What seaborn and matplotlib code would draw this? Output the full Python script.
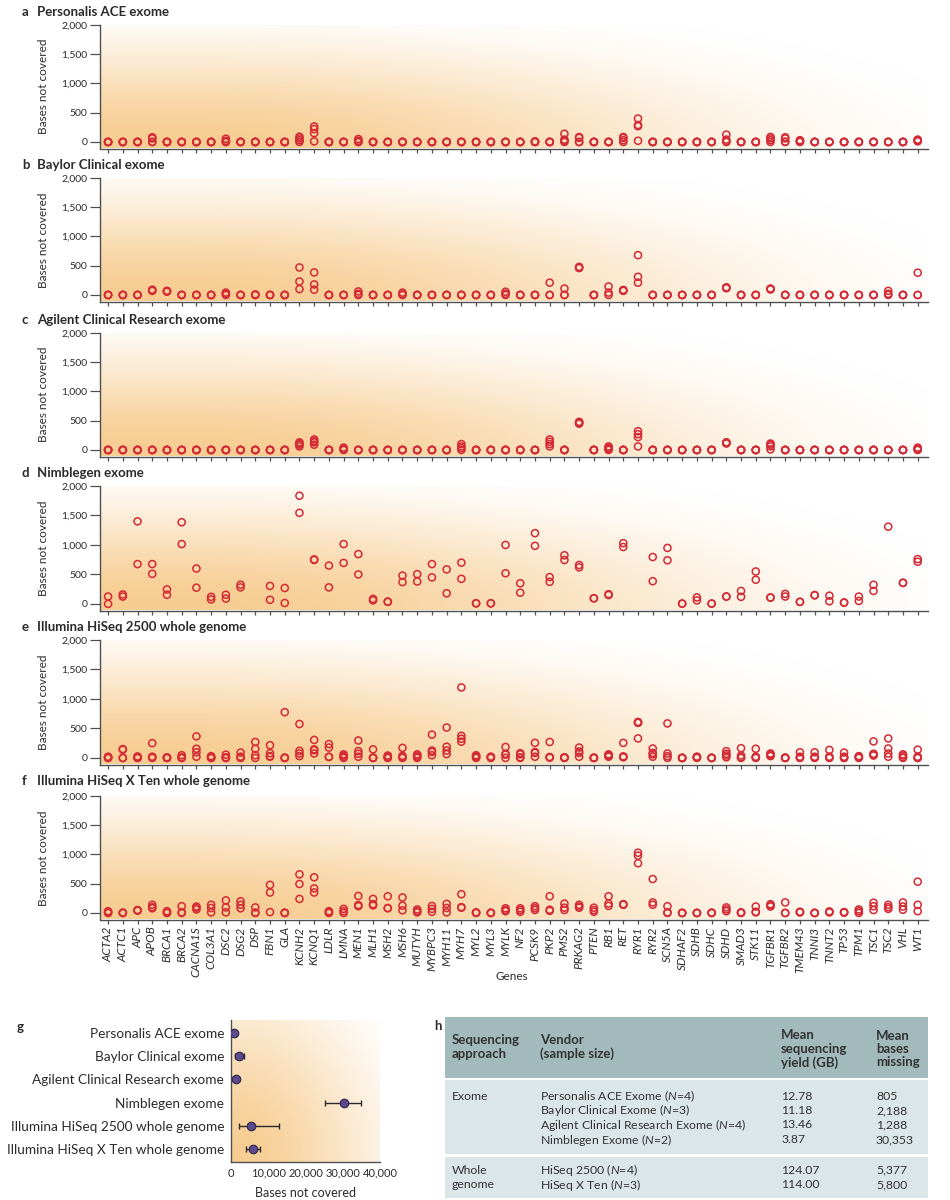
import numpy as np
import pandas as pd
import matplotlib
matplotlib.use("Agg")
import matplotlib.pyplot as plt
import matplotlib.ticker as mticker
from matplotlib.patches import Rectangle
import seaborn as sns

# ---- data ----
genes = ["ACTA2", "ACTC1", "APC", "APOB", "BRCA1", "BRCA2", "CACNA1S", "COL3A1",
         "DSC2", "DSG2", "DSP", "FBN1", "GLA", "KCNH2", "KCNQ1", "LDLR", "LMNA",
         "MEN1", "MLH1", "MSH2", "MSH6", "MUTYH", "MYBPC3", "MYH11", "MYH7", "MYL2",
         "MYL3", "MYLK", "NF2", "PCSK9", "PKP2", "PMS2", "PRKAG2", "PTEN", "RB1",
         "RET", "RYR1", "RYR2", "SCN5A", "SDHAF2", "SDHB", "SDHC", "SDHD", "SMAD3",
         "STK11", "TGFBR1", "TGFBR2", "TMEM43", "TNNI3", "TNNT2", "TP53", "TPM1",
         "TSC1", "TSC2", "VHL", "WT1"]

# bases not covered per gene, one value per sample
personalis_ace = [
    [0, 0, 0, 0], [0, 0, 0, 0], [0, 0, 0, 0], [0, 0, 60, 80], [0, 0, 0, 0], [0, 0, 0, 0],
    [0, 0, 0, 0], [0, 0, 0, 0], [0, 0, 20, 55], [0, 0, 0, 0], [0, 0, 0, 0], [0, 0, 0, 0],
    [0, 0, 0, 0], [0, 30, 60, 90], [10, 150, 220, 265], [0, 0, 0, 0], [0, 0, 0, 0],
    [0, 0, 20, 50], [0, 0, 0, 0], [0, 0, 0, 0], [0, 0, 0, 0], [0, 0, 0, 0], [0, 0, 0, 0],
    [0, 0, 0, 0], [0, 0, 0, 0], [0, 0, 0, 0], [0, 0, 0, 0], [0, 0, 0, 0], [0, 0, 0, 0],
    [0, 0, 5, 10], [0, 0, 0, 0], [0, 20, 40, 140], [0, 0, 70, 85], [0, 0, 0, 0],
    [0, 0, 0, 0], [0, 30, 70, 85], [20, 270, 290, 400], [0, 0, 0, 0], [0, 0, 0, 0],
    [0, 0, 0, 0], [0, 0, 0, 0], [0, 0, 0, 0], [0, 10, 40, 125], [0, 0, 0, 0],
    [0, 0, 0, 0], [0, 30, 60, 85], [0, 5, 60, 80], [0, 10, 20, 30], [0, 0, 0, 0],
    [0, 0, 0, 0], [0, 0, 0, 0], [0, 0, 0, 0], [0, 0, 0, 0], [0, 0, 0, 0], [0, 0, 0, 0],
    [10, 20, 30, 40]]

baylor_clinical = [
    [0, 0, 0], [0, 0, 0], [0, 0, 0], [70, 80, 90], [55, 65, 70], [0, 0, 0], [0, 0, 0],
    [0, 0, 0], [0, 20, 40], [0, 0, 0], [0, 0, 10], [0, 0, 0], [0, 0, 0], [100, 230, 470],
    [90, 180, 385], [0, 0, 0], [0, 0, 0], [0, 20, 60], [0, 0, 0], [0, 0, 0], [0, 10, 40],
    [0, 0, 0], [0, 0, 0], [0, 0, 0], [0, 0, 0], [0, 0, 0], [0, 0, 0], [0, 20, 55],
    [0, 0, 0], [0, 0, 0], [0, 0, 210], [0, 0, 110], [460, 470, 480], [0, 0, 0],
    [0, 40, 145], [70, 80, 85], [210, 310, 680], [0, 0, 0], [0, 0, 0], [0, 0, 0],
    [0, 0, 0], [0, 0, 0], [115, 125, 130], [0, 0, 0], [0, 0, 0], [95, 100, 110],
    [0, 0, 0], [0, 0, 0], [0, 0, 0], [0, 0, 0], [0, 0, 0], [0, 0, 0], [0, 0, 0],
    [0, 20, 70], [0, 0, 0], [0, 0, 380]]

agilent_clinical = [
    [0, 0, 0, 0], [0, 0, 0, 0], [0, 0, 0, 0], [0, 0, 0, 0], [0, 0, 0, 0], [0, 0, 0, 0],
    [0, 0, 0, 0], [0, 0, 0, 0], [0, 0, 0, 0], [0, 0, 0, 0], [0, 0, 0, 0], [0, 0, 0, 0],
    [0, 0, 0, 0], [60, 90, 110, 130], [90, 130, 150, 180], [0, 0, 0, 0],
    [0, 10, 20, 40], [0, 0, 0, 0], [0, 0, 0, 0], [0, 0, 0, 0], [0, 0, 0, 0],
    [0, 0, 0, 0], [0, 0, 0, 0], [0, 0, 0, 0], [0, 30, 60, 100], [0, 0, 0, 0],
    [0, 0, 0, 0], [0, 0, 0, 0], [0, 0, 0, 0], [0, 0, 0, 0], [60, 100, 140, 180],
    [0, 0, 0, 0], [450, 460, 470, 480], [0, 0, 0, 0], [0, 20, 40, 60], [0, 0, 0, 0],
    [60, 220, 270, 320], [0, 0, 0, 0], [0, 0, 0, 0], [0, 0, 0, 0], [0, 0, 0, 0],
    [0, 0, 0, 0], [110, 120, 125, 130], [0, 0, 0, 0], [0, 0, 0, 0], [10, 60, 90, 110],
    [0, 0, 0, 0], [0, 0, 0, 0], [0, 0, 0, 0], [0, 0, 0, 0], [0, 0, 0, 0], [0, 0, 0, 0],
    [0, 0, 0, 0], [0, 0, 0, 0], [0, 0, 0, 0], [0, 10, 20, 40]]

nimblegen = [
    [0, 125], [125, 160], [675, 1400], [510, 675], [155, 245], [1015, 1385], [275, 600],
    [75, 120], [90, 155], [280, 325], [], [70, 305], [15, 270], [1545, 1835], [745, 755],
    [280, 650], [695, 1015], [500, 845], [60, 85], [35, 40], [370, 480], [380, 505],
    [450, 675], [180, 585], [425, 700], [10, 10], [10, 10], [520, 1000], [190, 350],
    [985, 1200], [375, 455], [745, 825], [620, 660], [95, 95], [150, 165], [965, 1030],
    [], [385, 795], [740, 950], [5, 5], [60, 110], [5, 5], [125, 125], [120, 220],
    [410, 550], [105, 110], [125, 170], [35, 35], [145, 150], [45, 140], [20, 25],
    [50, 125], [220, 325], [1310], [355, 360], [715, 760]]

hiseq_2500 = [
    [0, 0, 10, 20], [0, 0, 140, 150], [0, 0, 10, 25], [0, 10, 20, 250], [0, 0, 5, 10],
    [0, 0, 10, 45], [20, 95, 155, 365], [0, 0, 10, 30], [0, 0, 10, 55], [0, 10, 20, 90],
    [0, 45, 155, 270], [20, 30, 80, 215], [0, 0, 5, 775], [30, 75, 120, 575],
    [75, 130, 145, 305], [15, 20, 175, 235], [0, 20, 40, 60], [20, 70, 115, 295],
    [0, 0, 5, 145], [0, 5, 20, 40], [0, 10, 35, 170], [0, 20, 40, 60],
    [45, 100, 125, 395], [65, 125, 190, 515], [275, 325, 375, 1195], [0, 10, 30, 45],
    [0, 10, 15, 20], [0, 55, 70, 185], [0, 10, 60, 80], [20, 85, 100, 255],
    [5, 10, 15, 270], [0, 5, 5, 10], [20, 85, 110, 175], [0, 0, 0, 5], [20, 30, 50, 60],
    [10, 20, 25, 255], [330, 595, 600, 610], [20, 60, 85, 160], [0, 30, 75, 585],
    [0, 0, 0, 0], [0, 10, 15, 20], [0, 0, 0, 0], [10, 40, 70, 115], [0, 10, 40, 165],
    [0, 10, 20, 155], [30, 45, 60, 75], [0, 0, 0, 5], [0, 5, 20, 95], [0, 5, 20, 95],
    [0, 5, 20, 135], [0, 0, 20, 90], [0, 10, 20, 30], [40, 60, 70, 280],
    [20, 75, 160, 330], [0, 10, 40, 60], [0, 0, 20, 140]]

hiseq_x_ten = [
    [0, 10, 30], [0, 0, 5], [40, 45, 50], [80, 100, 140], [0, 5, 30], [0, 10, 115],
    [60, 90, 110], [10, 85, 140], [10, 95, 215], [80, 140, 200], [0, 5, 95],
    [15, 350, 480], [0, 0, 5], [240, 495, 660], [350, 420, 610], [0, 10, 30], [0, 30, 70],
    [115, 135, 290], [130, 150, 240], [80, 85, 285], [45, 125, 265], [10, 30, 60],
    [20, 70, 120], [10, 85, 155], [90, 100, 320], [0, 5, 10], [0, 0, 5], [30, 50, 80],
    [20, 50, 80], [50, 80, 115], [35, 55, 285], [50, 90, 160], [90, 110, 140],
    [20, 50, 90], [120, 160, 285], [140, 145, 150], [850, 980, 1030], [140, 180, 580],
    [0, 10, 115], [0, 0, 0], [0, 0, 0], [0, 0, 5], [30, 60, 95], [0, 5, 10], [10, 20, 110],
    [110, 130, 150], [0, 0, 180], [10, 15, 20], [0, 0, 0], [10, 20, 25], [5, 10, 15],
    [0, 30, 60], [50, 115, 175], [70, 100, 140], [55, 110, 180], [30, 140, 535]]

panel_letters = ["a", "b", "c", "d", "e", "f"]
panel_titles = ["Personalis ACE exome", "Baylor Clinical exome", "Agilent Clinical Research exome",
                "Nimblegen exome", "Illumina HiSeq 2500 whole genome",
                "Illumina HiSeq X Ten whole genome"]
panel_values = [personalis_ace, baylor_clinical, agilent_clinical, nimblegen,
                hiseq_2500, hiseq_x_ten]

# panel g: total bases not covered per platform
g_labels = ["Personalis ACE exome", "Baylor Clinical exome", "Agilent Clinical Research exome",
            "Nimblegen exome", "Illumina HiSeq 2500 whole genome",
            "Illumina HiSeq X Ten whole genome"]
g_mean = [805, 2188, 1288, 30353, 5377, 5800]
g_low = [350, 1100, 900, 25300, 2250, 3950]
g_high = [1450, 3550, 1650, 34800, 12800, 7800]

# panel h: summary table
h_approach = ["Exome", "Whole\ngenome"]
h_vendors = [["Personalis ACE Exome ($\\mathit{N}$=4)", "Baylor Clinical Exome ($\\mathit{N}$=3)",
              "Agilent Clinical Research Exome ($\\mathit{N}$=4)", "Nimblegen Exome ($\\mathit{N}$=2)"],
             ["HiSeq 2500 ($\\mathit{N}$=4)", "HiSeq X Ten ($\\mathit{N}$=3)"]]
h_yield = [["12.78", "11.18", "13.46", "3.87"], ["124.07", "114.00"]]
h_missing = [["805", "2,188", "1,288", "30,353"], ["5,377", "5,800"]]

# ---- style ----
sns.set_theme(style="ticks")
plt.rcParams["font.family"] = ["Lato", "DejaVu Sans"]
plt.rcParams["mathtext.fontset"] = "custom"
plt.rcParams["mathtext.it"] = "Lato:italic"
plt.rcParams["mathtext.rm"] = "Lato"

RED = "#d42a35"
AXIS = "#505050"
TXT = "#2b2b2b"
ORANGE = np.array([247, 205, 146]) / 255
HEAD = "#a3babd"
BODY = "#dbe6e8"

W, H = 950, 1200


def fig_rect(left, top, right, bottom):
    """pixel box (from top-left) -> figure fraction rect"""
    return [left / W, 1 - bottom / H, (right - left) / W, (bottom - top) / H]


def gradient(ax, cx=0.1, rx=1.0, ry=1.25):
    # soft orange glow from the lower left corner
    xx, yy = np.meshgrid(np.linspace(0, 1, 400), np.linspace(0, 1, 120))
    dx = np.clip(xx - cx, 0, None) / rx
    t = np.clip(1 - np.sqrt(dx ** 2 + (yy / ry) ** 2), 0, 1)
    w = t * t * (3 - 2 * t)
    img = 1 - w[..., None] * (1 - ORANGE)
    ax.imshow(img, extent=[0, 1, 0, 1], transform=ax.transAxes, origin="lower",
              aspect="auto", zorder=0, interpolation="bilinear")


def style_axes(ax):
    sns.despine(ax=ax)
    for side in ["left", "bottom"]:
        ax.spines[side].set_color(AXIS)
        ax.spines[side].set_linewidth(1.0)
    ax.grid(False)


fig = plt.figure(figsize=(9.5, 12), dpi=100)

# ---- panels a-f ----
tops = [25, 178, 333, 486, 640, 796]
zeros = [142, 295, 450, 604, 758, 913]
title_y = [12, 165, 320, 473, 627, 781]

for i, values in enumerate(panel_values):
    ax = fig.add_axes(fig_rect(100, tops[i], 928, zeros[i] + 6.5))
    gradient(ax)
    rows = [(g, v) for g, vals in zip(genes, values) for v in vals]
    df = pd.DataFrame(rows, columns=["gene", "bases"])
    df["pos"] = pd.Categorical(df["gene"], categories=genes).codes
    sns.scatterplot(data=df, x="pos", y="bases", ax=ax, s=26, facecolors="none",
                    edgecolor=RED, linewidth=1.1, zorder=3, legend=False)
    ax.set_xlim(-0.55, 55.7)
    ax.set_ylim(-112, 2000)
    ax.set_xticks(range(len(genes)))
    ax.set_yticks([0, 500, 1000, 1500, 2000])
    ax.yaxis.set_major_formatter(mticker.StrMethodFormatter("{x:,.0f}"))
    style_axes(ax)
    ax.tick_params(axis="y", length=7, width=0.9, color=AXIS, labelsize=7.5,
                   labelcolor=TXT, pad=2)
    ax.tick_params(axis="x", length=3, width=0.9, color=AXIS)
    ax.set_xlabel("")
    ax.set_ylabel("Bases not covered", fontsize=8.5, color=TXT)
    ax.yaxis.set_label_coords(-0.062, 0.5)
    if i < 5:
        ax.tick_params(axis="x", labelbottom=False)
    else:
        ax.set_xticklabels(genes, rotation=90, fontsize=8.5, style="italic", color=TXT)
        ax.tick_params(axis="x", pad=2)
    fig.text(22 / W, 1 - title_y[i] / H, panel_letters[i], fontsize=9.5,
             fontweight="bold", va="center", color=TXT)
    fig.text(37 / W, 1 - title_y[i] / H, panel_titles[i], fontsize=9.5,
             fontweight="bold", va="center", color=TXT)

fig.text(512 / W, 1 - 976 / H, "Genes", fontsize=8.5, ha="center", va="center", color=TXT)

# ---- panel g ----
axg = fig.add_axes(fig_rect(231, 1020, 380, 1162))
gradient(axg, cx=0.0, rx=1.5, ry=1.8)
ypos = np.arange(len(g_labels))
g_mean_arr = np.array(g_mean)
xerr = [g_mean_arr - np.array(g_low), np.array(g_high) - g_mean_arr]
axg.errorbar(g_mean, ypos, xerr=xerr, fmt="none", ecolor="#2a2a2a", elinewidth=1.0,
             capsize=2.5, capthick=1.0, zorder=3)
sns.scatterplot(x=g_mean, y=ypos, ax=axg, s=38, color="#5d4a8e", edgecolor="#2e2448",
                linewidth=0.8, zorder=4, legend=False)
axg.set_xlim(0, 40000)
axg.set_ylim(5.56, -0.56)
axg.set_yticks(ypos)
axg.set_yticklabels(g_labels, fontsize=9.8, color=TXT)
axg.set_xticks([0, 10000, 20000, 30000, 40000])
axg.xaxis.set_major_formatter(mticker.StrMethodFormatter("{x:,.0f}"))
style_axes(axg)
axg.tick_params(axis="y", length=0, pad=5)
axg.tick_params(axis="x", length=0, pad=4, labelsize=8, labelcolor=TXT)
axg.set_xlabel("Bases not covered", fontsize=9, color=TXT, labelpad=6)
axg.set_ylabel("")
fig.text(17 / W, 1 - 1027 / H, "g", fontsize=9.5, fontweight="bold", va="center", color=TXT)

# ---- panel h (table) ----
axt = fig.add_axes([0, 0, 1, 1])
axt.set_xlim(0, W)
axt.set_ylim(H, 0)
axt.axis("off")
axt.add_patch(Rectangle((445, 1017), 483, 61, color=HEAD, lw=0))
axt.add_patch(Rectangle((445, 1080), 483, 74, color=BODY, lw=0))
axt.add_patch(Rectangle((445, 1157), 483, 41, color=BODY, lw=0))
axt.text(434, 1026, "h", fontsize=9.5, fontweight="bold", va="center", color=TXT)

col_x = [452, 540, 781, 876]
head_kw = dict(fontsize=9.5, fontweight="bold", color="#333333", va="center",
               linespacing=1.15)
axt.text(col_x[0], 1047, "Sequencing\napproach", **head_kw)
axt.text(col_x[1], 1047, "Vendor\n(sample size)", **head_kw)
axt.text(col_x[2], 1049, "Mean\nsequencing\nyield (GB)", **head_kw)
axt.text(col_x[3], 1049, "Mean\nbases\nmissing", **head_kw)

block_y = [[1096, 1110.5, 1125, 1139.5], [1170, 1185]]
cell_kw = dict(fontsize=8.8, color="#333333", va="center")
for b in range(2):
    ys = block_y[b]
    if b == 0:
        axt.text(col_x[0], ys[0], h_approach[b], **cell_kw)
    else:
        axt.text(col_x[0], (ys[0] + ys[1]) / 2, h_approach[b], linespacing=1.3, **cell_kw)
    for j, y in enumerate(ys):
        axt.text(col_x[1], y, h_vendors[b][j], **cell_kw)
        axt.text(col_x[2], y, h_yield[b][j], **cell_kw)
        axt.text(col_x[3], y, h_missing[b][j], **cell_kw)

fig.savefig("out.png", dpi=100)
